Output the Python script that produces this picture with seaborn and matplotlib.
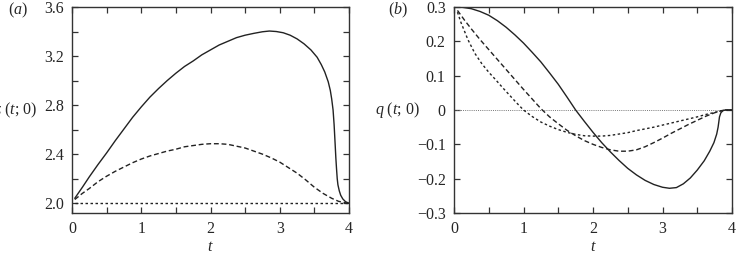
import numpy as np
import pandas as pd
import matplotlib
matplotlib.use("Agg")
import matplotlib.pyplot as plt
import seaborn as sns
from matplotlib.ticker import MultipleLocator, FixedLocator

# ---------------- data ----------------
# panel (a): z(t;0)
a_solid_t = [0.04, 0.15, 0.25, 0.375, 0.5, 0.625, 0.75, 0.875, 1.0, 1.125, 1.25, 1.375, 1.5, 1.625, 1.75,
             1.875, 2.0, 2.125, 2.25, 2.375, 2.5, 2.625, 2.75, 2.85, 2.95, 3.05, 3.15, 3.25, 3.35, 3.45,
             3.54, 3.6, 3.65, 3.7, 3.73, 3.75, 3.77, 3.785, 3.8, 3.81, 3.82, 3.83, 3.84, 3.86, 3.88, 3.91,
             3.95, 4.0]
a_solid_z = [2.04, 2.13, 2.215, 2.315, 2.41, 2.51, 2.605, 2.70, 2.785, 2.865, 2.935, 3.0, 3.06, 3.115, 3.16,
             3.21, 3.25, 3.29, 3.32, 3.35, 3.37, 3.385, 3.398, 3.404, 3.40, 3.39, 3.37, 3.34, 3.30, 3.25,
             3.19, 3.13, 3.07, 2.99, 2.92, 2.85, 2.76, 2.64, 2.48, 2.37, 2.28, 2.20, 2.15, 2.10, 2.065, 2.035,
             2.012, 2.0]
a_dash_t = [0.04, 0.15, 0.25, 0.375, 0.5, 0.625, 0.75, 0.875, 1.0, 1.125, 1.25, 1.375, 1.5, 1.625, 1.75,
            1.875, 2.0, 2.125, 2.25, 2.375, 2.5, 2.625, 2.75, 2.875, 3.0, 3.125, 3.25, 3.375, 3.5, 3.625,
            3.75, 3.85, 3.95, 4.0]
a_dash_z = [2.03, 2.08, 2.12, 2.175, 2.22, 2.26, 2.295, 2.33, 2.36, 2.385, 2.405, 2.425, 2.44, 2.46, 2.47,
            2.48, 2.485, 2.485, 2.48, 2.465, 2.45, 2.425, 2.40, 2.37, 2.335, 2.29, 2.245, 2.19, 2.13, 2.08,
            2.04, 2.015, 2.003, 2.0]
a_dot_t = [0.04, 4.0]
a_dot_z = [2.0, 2.0]

# panel (b): q(t;0)
b_solid_t = [0.0, 0.125, 0.25, 0.375, 0.5, 0.625, 0.75, 0.875, 1.0, 1.125, 1.25, 1.375, 1.5, 1.625, 1.75,
             1.875, 2.0, 2.125, 2.25, 2.375, 2.5, 2.625, 2.75, 2.875, 3.0, 3.1, 3.2, 3.3, 3.4, 3.5, 3.6,
             3.68, 3.74, 3.78, 3.8, 3.81, 3.82, 3.84, 3.87, 3.9, 4.0]
b_solid_q = [0.30, 0.299, 0.295, 0.287, 0.276, 0.26, 0.241, 0.219, 0.195, 0.168, 0.14, 0.108, 0.075, 0.038,
             0.0, -0.033, -0.065, -0.095, -0.122, -0.147, -0.17, -0.189, -0.205, -0.217, -0.225, -0.228,
             -0.226, -0.215, -0.198, -0.175, -0.148, -0.12, -0.095, -0.07, -0.05, -0.035, -0.02, -0.008,
             -0.002, 0.0, 0.0]
b_dash_t = [0.05, 0.15, 0.25, 0.375, 0.5, 0.625, 0.75, 0.875, 1.0, 1.125, 1.25, 1.375, 1.5, 1.625, 1.75,
            1.875, 2.0, 2.125, 2.25, 2.375, 2.5, 2.625, 2.75, 2.875, 3.0, 3.125, 3.25, 3.375, 3.5, 3.625,
            3.75, 3.85, 3.9, 4.0]
b_dash_q = [0.29, 0.262, 0.236, 0.205, 0.176, 0.147, 0.118, 0.089, 0.06, 0.032, 0.004, -0.02, -0.04, -0.059,
            -0.075, -0.089, -0.10, -0.109, -0.116, -0.12, -0.12, -0.116, -0.107, -0.095, -0.082, -0.068,
            -0.055, -0.042, -0.03, -0.018, -0.008, -0.002, 0.0, 0.0]
b_dot_t = [0.05, 0.1, 0.2, 0.3, 0.4, 0.5, 0.6, 0.7, 0.8, 0.9, 1.0, 1.125, 1.25, 1.375, 1.5, 1.625, 1.75,
           1.875, 2.0, 2.125, 2.25, 2.375, 2.5, 2.625, 2.75, 2.875, 3.0, 3.125, 3.25, 3.375, 3.5, 3.625,
           3.75, 3.85, 3.9, 4.0]
b_dot_q = [0.285, 0.255, 0.205, 0.165, 0.135, 0.11, 0.088, 0.065, 0.043, 0.021, 0.0, -0.019, -0.035, -0.047,
           -0.057, -0.065, -0.071, -0.075, -0.076, -0.076, -0.074, -0.07, -0.066, -0.06, -0.055, -0.05,
           -0.044, -0.038, -0.032, -0.026, -0.02, -0.013, -0.007, -0.002, 0.0, 0.0]
b_zero_t = [0.0, 4.0]
b_zero_q = [0.0, 0.0]

a_yticks = [2.0, 2.4, 2.8, 3.2, 3.6]
b_yticks = [-0.3, -0.2, -0.1, 0.0, 0.1, 0.2, 0.3]
b_yticklabels = ["\u22120.3", "\u22120.2", "\u22120.1", "0", "0.1", "0.2", "0.3"]
xticks = [0, 1, 2, 3, 4]

# ---------------- style ----------------
sns.set_style("ticks")
plt.rcParams["font.family"] = ["Liberation Serif", "DejaVu Serif"]
plt.rcParams["mathtext.fontset"] = "custom"
plt.rcParams["mathtext.rm"] = "Liberation Serif"
plt.rcParams["mathtext.it"] = "Liberation Serif:italic"
FS = 11.5

fig = plt.figure(figsize=(7.39, 2.54), dpi=100)
W, H = 739.0, 254.0
axA = fig.add_axes([72 / W, 1 - 213 / H, (349 - 72) / W, (213 - 7) / H])
axB = fig.add_axes([454 / W, 1 - 213 / H, (732 - 454) / W, (213 - 7) / H])

lc = "#222222"
lw = 1.0
dash = (0, (3.5, 2.0))
dot = (0, (1.8, 1.8))


def draw(ax, t, v, ls, color=lc, width=lw):
    df = pd.DataFrame({"t": t, "v": v})
    sns.lineplot(data=df, x="t", y="v", ax=ax, color=color, linewidth=width,
                 linestyle=ls, estimator=None, sort=False)


draw(axA, a_solid_t, a_solid_z, "-")
draw(axA, a_dash_t, a_dash_z, dash)
draw(axA, a_dot_t, a_dot_z, dot)

draw(axB, b_zero_t, b_zero_q, (0, (1.0, 1.2)), color="#777777", width=0.7)
draw(axB, b_solid_t, b_solid_q, "-")
draw(axB, b_dash_t, b_dash_q, dash)
draw(axB, b_dot_t, b_dot_q, dot)

for ax in (axA, axB):
    ax.set_xlim(0, 4)
    ax.xaxis.set_major_locator(FixedLocator(xticks))
    ax.set_xticklabels([str(x) for x in xticks])
    ax.xaxis.set_minor_locator(MultipleLocator(0.5))
    ax.tick_params(which="both", direction="in", top=True, right=True, length=4.5,
                   width=0.9, color="#333333", labelsize=FS, pad=6)
    for s in ax.spines.values():
        s.set_linewidth(1.0)
        s.set_color("#333333")
    ax.set_xlabel("$t$", fontsize=FS, labelpad=1)

axA.set_ylim(1.92, 3.6)
axA.yaxis.set_major_locator(FixedLocator(a_yticks))
axA.set_yticklabels([f"{v:.1f}" for v in a_yticks])
axA.yaxis.set_minor_locator(MultipleLocator(0.2))

axB.set_ylim(-0.3, 0.3)
axB.yaxis.set_major_locator(FixedLocator(b_yticks))
axB.set_yticklabels(b_yticklabels)
axB.yaxis.set_minor_locator(FixedLocator([]))

axA.set_ylabel("")
axB.set_ylabel("")
fig.text(37 / W, 1 - 110 / H, r"$z\ (t;\, 0)$", ha="right", va="center", fontsize=FS)
fig.text(420 / W, 1 - 110 / H, r"$q\ (t;\, 0)$", ha="right", va="center", fontsize=FS)
fig.text(8 / W, 1 - 10 / H, r"$(a)$", ha="left", va="center", fontsize=FS)
fig.text(388 / W, 1 - 10 / H, r"$(b)$", ha="left", va="center", fontsize=FS)

fig.savefig("out.png", dpi=100)
